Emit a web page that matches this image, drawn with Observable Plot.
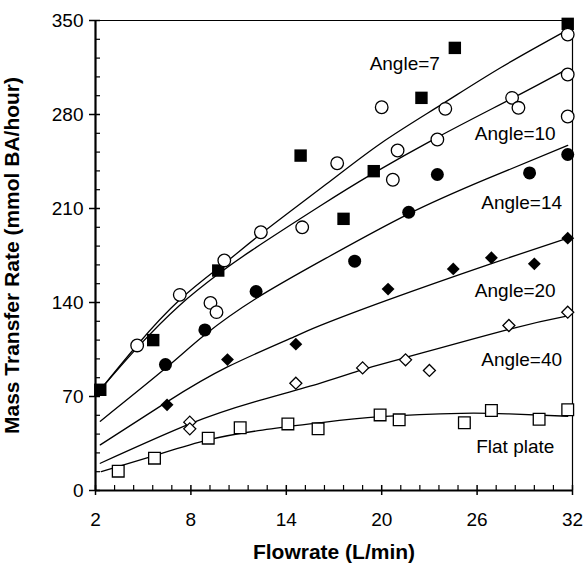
<!DOCTYPE html>
<html>
<head>
<meta charset="utf-8">
<script src="https://cdn.jsdelivr.net/npm/d3@7"></script>
<script src="https://cdn.jsdelivr.net/npm/@observablehq/plot@0.6"></script>
<style>
  body { margin: 0; background: #fff; }
</style>
</head>
<body>
<div id="chart"></div>
<script>
// Measured mass transfer rate (mmol BA/hour) against flowrate (L/min)
const angle7 = [[2.3,75],[5.63,112],[9.72,163.8],[14.9,249.4],[17.6,202.3],[19.5,237.8],[22.5,292.4],[24.6,329.6],[31.7,347.5]];
const angle10 = [[4.62,108],[7.3,145.7],[9.23,139.7],[9.61,132.8],[10.1,171.3],[12.4,192.3],[15.0,196],[17.2,243.7],[20.0,285.4],[20.7,231.4],[21.0,253.2],[23.5,261.4],[24.0,284.2],[28.2,292.4],[28.6,285],[31.7,339.5],[31.7,309.8],[31.7,278.5]];
const angle14 = [[6.4,93.8],[8.88,119.6],[12.1,148.2],[18.3,170.8],[21.7,207.2],[23.5,235.3],[29.3,236.5],[31.7,250.2]];
const angle20 = [[6.5,63.8],[10.3,97.5],[14.6,109],[20.4,150],[24.5,165],[26.9,173.3],[29.6,168.8],[31.7,187.9]];
const angle40 = [[7.93,50.9],[7.93,45.9],[14.6,79.9],[18.8,91.3],[21.5,97.3],[23.0,89.4],[28.0,122.9],[31.7,132.8]];
const flatPlate = [[3.43,14.4],[5.71,24.1],[9.09,39],[11.1,46.7],[14.1,49.6],[16.0,45.9],[19.9,56.3],[21.1,52.6],[25.2,50.4],[26.9,59.6],[29.9,53.1],[31.7,60.1]];

// Fitted trend curves, sampled along flowrate
const fit7 = [[2.3,75],[4.6,108],[7.3,142],[10.1,169],[12.4,191],[16.5,228],[20,259],[23.7,287],[27.5,315],[31.7,343]];
const fit10 = [[2.3,75],[4.6,106],[7.3,138],[9.7,161],[11.85,179],[16.15,212],[19.3,235],[23.5,263],[28.2,292],[31.7,314]];
const fit14 = [[2.3,51.6],[6.4,91],[8.88,116],[12.1,143],[16.5,173],[21.7,206],[26.6,232],[31.7,257]];
const fit20 = [[2.3,34],[6.5,66],[10.3,92],[14.6,115],[16.15,123],[20.4,142],[26.9,169],[31.7,188]];
const fit40 = [[2.3,20.3],[7.93,49.6],[12,66],[16.15,80],[18.8,90],[21.5,99],[28,120],[31.7,130]];
const fitFlat = [[2.36,14.1],[5.71,26],[9.09,37.7],[12.5,45],[16.15,50.5],[19.9,55],[25,57.5],[28,57],[31.7,55.3]];

// Curve labels and their anchor points
const labelText = ["Angle=7", "Angle=10", "Angle=14", "Angle=20", "Angle=40", "Flat plate"];
const labelX = [21.45, 28.4, 28.8, 28.4, 28.8, 28.4];
const labelY = [318, 265.3, 214, 148.5, 97.4, 32.8];

// Axis ticks
const xMajor = [2, 8, 14, 20, 26, 32];
const yMajor = [0, 70, 140, 210, 280, 350];
const xMinor = d3.range(0, 26).map(i => 2 + i * 1.2).filter(v => !xMajor.some(m => Math.abs(m - v) < 1e-6));
const yMinor = d3.range(0, 26).map(i => i * 14).filter(v => v % 70 !== 0);

const font = "'Liberation Sans', Arial, sans-serif";
const pt = ([x, y]) => ({x, y});
const fits = [fit7, fit10, fit14, fit20, fit40, fitFlat];
const fitRows = fits.flatMap((f, k) => f.map(p => ({...pt(p), k})));
const labels = labelText.map((t, i) => ({t, x: labelX[i], y: labelY[i]}));

const open = {fill: "white", stroke: "black", strokeWidth: 1.3};

const chart = Plot.plot({
  width: 583,
  height: 566,
  marginLeft: 95,
  marginRight: 11,
  marginTop: 20,
  marginBottom: 76,
  style: {fontFamily: font, fontSize: "19px", background: "white", color: "black"},
  x: {domain: [2, 32]},
  y: {domain: [0, 350]},
  marks: [
    // frame
    Plot.ruleY([350], {stroke: "black", strokeWidth: 1.2}),
    Plot.ruleX([32], {stroke: "black", strokeWidth: 1.2}),
    // axis ticks
    Plot.ruleX(xMajor, {x: d => d, y1: 0, y2: 0, insetTop: -5, insetBottom: -5, stroke: "black", strokeWidth: 1.5}),
    Plot.ruleX(xMinor, {x: d => d, y1: 0, y2: 0, insetTop: -5, stroke: "black", strokeWidth: 1.2}),
    Plot.ruleY(yMajor, {y: d => d, x1: 2, x2: 2, insetLeft: -6, insetRight: -5, stroke: "black", strokeWidth: 1.5}),
    Plot.ruleY(yMinor, {y: d => d, x1: 2, x2: 2, insetRight: -5, stroke: "black", strokeWidth: 1.2}),
    Plot.ruleY([0], {stroke: "black", strokeWidth: 2.2}),
    Plot.ruleX([2], {stroke: "black", strokeWidth: 2.2}),
    Plot.axisX({ticks: xMajor, tickSize: 0, tickPadding: 22, label: null, fontSize: 19}),
    Plot.axisY({ticks: yMajor, tickSize: 0, tickPadding: 12, label: null, fontSize: 19}),
    // trend curves
    Plot.line(fitRows, {x: "x", y: "y", z: "k", curve: "natural", stroke: "black", strokeWidth: 1.3}),
    // data
    Plot.dot(angle7.map(pt), {x: "x", y: "y", symbol: "square", r: 7, fill: "black"}),
    Plot.dot(angle10.map(pt), {x: "x", y: "y", symbol: "circle", r: 6.3, ...open}),
    Plot.dot(angle14.map(pt), {x: "x", y: "y", symbol: "circle", r: 6.5, fill: "black"}),
    Plot.dot(angle20.map(pt), {x: "x", y: "y", symbol: "diamond2", r: 5.8, fill: "black"}),
    Plot.dot(angle40.map(pt), {x: "x", y: "y", symbol: "diamond2", r: 5.4, ...open}),
    Plot.dot(flatPlate.map(pt), {x: "x", y: "y", symbol: "square", r: 6.6, ...open}),
    // curve labels
    Plot.text(labels, {x: "x", y: "y", text: "t", fontSize: 19, textAnchor: "middle", fill: "black"}),
    // axis titles
    Plot.text(["Flowrate (L/min)"], {frameAnchor: "bottom", dy: 68, fontSize: 21, fontWeight: "bold", fill: "black"}),
    Plot.text(["Mass Transfer Rate (mmol BA/hour)"], {frameAnchor: "left", dx: -83, rotate: -90, textAnchor: "middle", fontSize: 21, fontWeight: "bold", fill: "black"})
  ]
});
document.getElementById("chart").appendChild(chart);
</script>
</body>
</html>
